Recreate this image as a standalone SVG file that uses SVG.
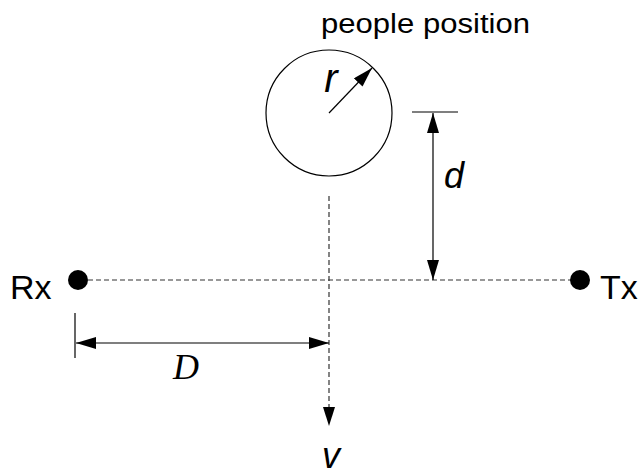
<svg xmlns="http://www.w3.org/2000/svg" width="644" height="472" viewBox="0 0 644 472">
<style>
.ln{stroke:#000;stroke-width:1.2;fill:none}
.ds{stroke:#333;stroke-width:1.2;fill:none;stroke-dasharray:5 3}
.sans{font-family:"Liberation Sans",Arial,sans-serif;fill:#000}
.it{font-style:italic}
</style>
<defs>
<marker id="ah" viewBox="0 0 20 12" refX="20" refY="6" markerWidth="20" markerHeight="12" markerUnits="userSpaceOnUse" orient="auto-start-reverse">
<path d="M0,0 L20,6 L0,12 Z" fill="#000"/>
</marker>
</defs>
<rect width="644" height="472" fill="#fff"/>
<g id="connectors">
<line class="ds" x1="88" y1="280" x2="572" y2="280"/>
<line class="ds" x1="329" y1="196" x2="329" y2="410" />
<path d="M323,407 L335,407 L329,426 Z" fill="#000"/>
<line class="ln" x1="329" y1="113" x2="372" y2="68" marker-end="url(#ah)"/>
<line class="ln" x1="412" y1="112" x2="458" y2="112"/>
<line class="ln" x1="433" y1="113" x2="433" y2="280" marker-start="url(#ah)" marker-end="url(#ah)"/>
<line class="ln" x1="75" y1="313" x2="75" y2="358"/>
<line class="ln" x1="76" y1="343" x2="329" y2="343" marker-start="url(#ah)" marker-end="url(#ah)"/>
</g>
<g id="people">
<circle cx="329" cy="113" r="63" class="ln"/>
<text x="321" y="33" class="sans" font-size="27" textLength="209" lengthAdjust="spacingAndGlyphs">people position</text>
<text x="331" y="92" class="sans it" font-size="40" text-anchor="middle">r</text>
</g>
<g id="rx">
<circle cx="78" cy="280" r="10" fill="#000"/>
<text x="10" y="299" class="sans" font-size="34">Rx</text>
</g>
<g id="tx">
<circle cx="580" cy="280" r="10" fill="#000"/>
<text x="600" y="299" class="sans" font-size="34">Tx</text>
</g>
<g id="labels">
<text x="454" y="188" class="sans it" font-size="36" text-anchor="middle">d</text>
<text x="186" y="379" font-family="'Liberation Serif','Times New Roman',serif" font-style="italic" font-size="36" text-anchor="middle">D</text>
<text x="331" y="468" class="sans it" font-size="36" text-anchor="middle">v</text>
</g>
</svg>
